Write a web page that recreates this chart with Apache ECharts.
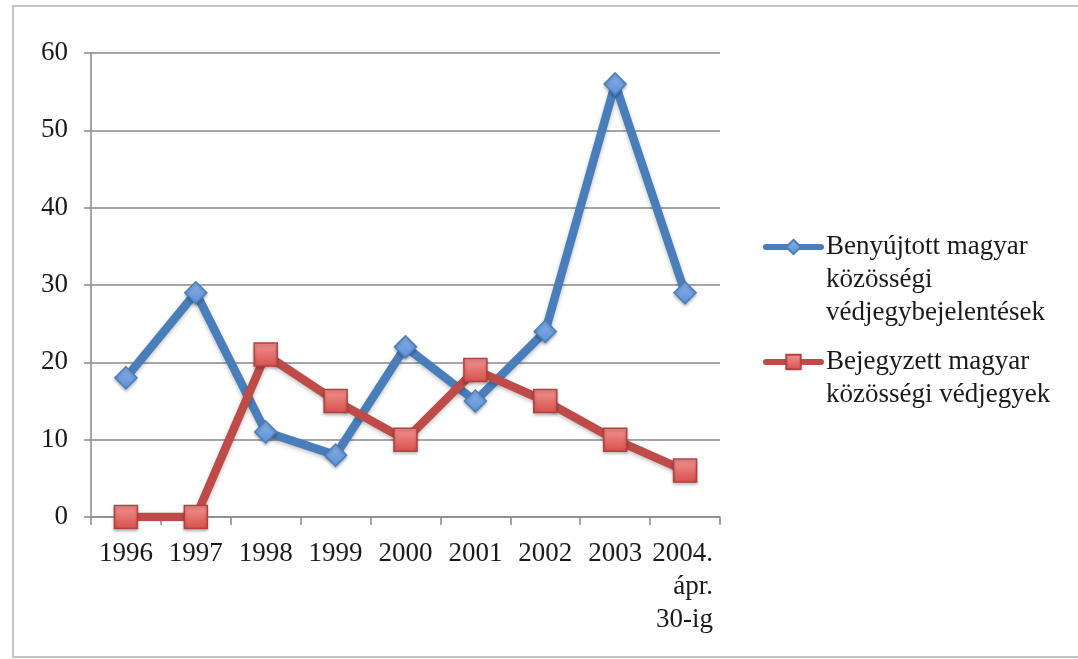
<!DOCTYPE html>
<html>
<head>
<meta charset="utf-8">
<script src="https://cdn.jsdelivr.net/npm/echarts@6/dist/echarts.min.js"></script>
<style>
html,body{margin:0;padding:0;background:#fff;}
#c{width:1078px;height:659px;}
</style>
</head>
<body>
<div id="c"></div>
<script>
const categories = ['1996','1997','1998','1999','2000','2001','2002','2003','2004.\nápr.\n30-ig'];
const seriesNames = ['Benyújtott magyar\nközösségi\nvédjegybejelentések', 'Bejegyzett magyar\nközösségi védjegyek'];
const submitted = [18, 29, 11, 8, 22, 15, 24, 56, 29];
const registered = [0, 0, 21, 15, 10, 19, 15, 10, 6];
const yTicks = {min: 0, max: 60, interval: 10};

const FONT = '"Liberation Serif", "DejaVu Serif", serif';
const TXT = '#1a1a1a';
const GRID = '#8a8a8a';

const chart = echarts.init(document.getElementById('c'), null, {renderer: 'canvas'});

const blueLine = '#4a7ebb';
const redLine = '#be4b48';

// prepend blank lines so that the legend icon sits beside the first text line
function legendFmt(name) {
  const n = name.split('\n').length;
  return '\n'.repeat(n - 1) + name;
}

const legendCommon = {
  orient: 'vertical',
  left: 758,
  padding: 5,
  itemWidth: 55,
  itemHeight: 18,
  itemGap: 0,
  formatter: legendFmt,
  lineStyle: {width: 6},
  textStyle: {fontFamily: FONT, fontSize: 27, color: TXT, lineHeight: 33}
};

const option = {
  backgroundColor: '#ffffff',
  animation: false,
  graphic: [{
    type: 'rect',
    shape: {x: 13, y: 6, width: 1080, height: 651},
    style: {fill: 'none', stroke: '#c4c4c4', lineWidth: 2},
    z: 0, silent: true
  }],
  grid: {left: 91, right: 358, top: 53, bottom: 142},
  legend: [
    Object.assign({}, legendCommon, {top: 159.5, data: [seriesNames[0]]}),
    Object.assign({}, legendCommon, {top: 307.5, data: [seriesNames[1]]})
  ],
  xAxis: {
    type: 'category',
    data: categories,
    boundaryGap: true,
    axisLine: {show: true, lineStyle: {color: GRID, width: 1.5}},
    axisTick: {show: true, interval: 0, length: 8, lineStyle: {color: GRID, width: 1.5}},
    axisLabel: {
      interval: 0,
      margin: 20,
      fontFamily: FONT, fontSize: 27, color: TXT, lineHeight: 33,
      formatter: function (v) {
        if (v.indexOf('\n') >= 0) {
          return v.split('\n').map(function (s) { return '{r|' + s + '}'; }).join('\n');
        }
        return v;
      },
      rich: {r: {fontFamily: FONT, fontSize: 27, color: TXT, lineHeight: 33, width: 56, align: 'right'}}
    },
    splitLine: {show: false}
  },
  yAxis: {
    type: 'value',
    min: yTicks.min, max: yTicks.max, interval: yTicks.interval,
    axisLine: {show: true, lineStyle: {color: GRID, width: 1.5}},
    axisTick: {show: true, length: 7, lineStyle: {color: GRID, width: 1.5}},
    axisLabel: {margin: 23, fontFamily: FONT, fontSize: 27, color: TXT},
    splitLine: {show: true, lineStyle: {color: GRID, width: 1.5}}
  },
  series: [{
    name: seriesNames[0],
    type: 'line',
    data: submitted,
    symbol: 'diamond',
    symbolSize: 22,
    lineStyle: {color: blueLine, width: 8.5, cap: 'round', shadowColor: 'rgba(0,0,0,0.25)', shadowBlur: 4, shadowOffsetY: 2},
    itemStyle: {
      color: new echarts.graphic.LinearGradient(0, 0, 0, 1, [{offset: 0, color: '#8db3ea'}, {offset: 1, color: '#5a8fd6'}]),
      borderColor: blueLine, borderWidth: 1.5,
      shadowColor: 'rgba(0,0,0,0.25)', shadowBlur: 3, shadowOffsetY: 2
    },
    z: 2
  }, {
    name: seriesNames[1],
    type: 'line',
    data: registered,
    symbol: 'rect',
    symbolSize: 23,
    lineStyle: {color: redLine, width: 8.5, cap: 'round', shadowColor: 'rgba(0,0,0,0.25)', shadowBlur: 4, shadowOffsetY: 2},
    itemStyle: {
      color: new echarts.graphic.LinearGradient(0, 0, 0, 1, [{offset: 0, color: '#f29592'}, {offset: 1, color: '#d64f4b'}]),
      borderColor: '#b3403c', borderWidth: 1.5,
      shadowColor: 'rgba(0,0,0,0.25)', shadowBlur: 3, shadowOffsetY: 2
    },
    z: 3
  }]
};
chart.setOption(option);
</script>
</body>
</html>
